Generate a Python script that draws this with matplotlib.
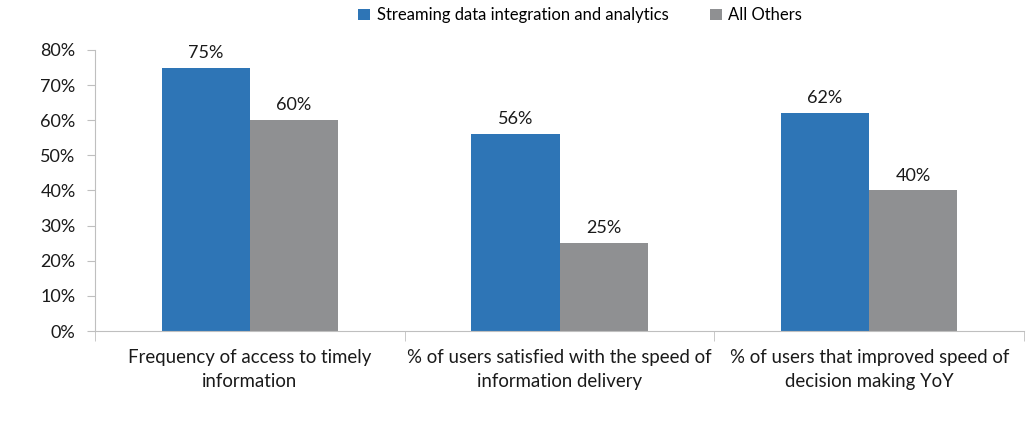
import matplotlib.pyplot as plt
import numpy as np

plt.rcParams['font.family'] = ['Lato', 'DejaVu Sans']

categories = ["Frequency of access to timely\ninformation",
              "% of users satisfied with the speed of\ninformation delivery",
              "% of users that improved speed of\ndecision making YoY"]
streaming = [75, 56, 62]
others = [60, 25, 40]
series_names = ["Streaming data integration and analytics", "All Others"]
y_ticks = [0, 10, 20, 30, 40, 50, 60, 70, 80]

BLUE = '#2E75B6'
GRAY = '#8F9092'
SPINE = '#BFBFBF'


def main():
    fig = plt.figure(figsize=(10.29, 4.22), dpi=100)
    ax = fig.add_axes([0.0923, 0.2156, 0.9029, 0.666])

    x = np.arange(len(categories))
    w = 0.285
    b1 = ax.bar(x - w / 2, streaming, w, color=BLUE, label=series_names[0])
    b2 = ax.bar(x + w / 2, others, w, color=GRAY, label=series_names[1])
    for bars in (b1, b2):
        ax.bar_label(bars, labels=[f"{v}%" for v in bars.datavalues],
                     padding=5, fontsize=13, color='#1A1A1A')

    ax.set_xlim(-0.5, len(categories) - 0.5)
    ax.set_ylim(0, 80)
    ax.set_yticks(y_ticks)
    ax.set_yticklabels([f"{v}%" for v in y_ticks], fontsize=13, color='#1A1A1A')
    ax.tick_params(axis='y', length=6, color=SPINE, pad=8)

    ax.set_xticks(x)
    ax.set_xticklabels(categories, fontsize=13.4, color='#1A1A1A', linespacing=1.5)
    ax.tick_params(axis='x', which='major', length=0, pad=13)
    ax.set_xticks(np.arange(-0.5, len(categories)), minor=True)
    ax.tick_params(axis='x', which='minor', length=7, color=SPINE)

    for s in ('top', 'right'):
        ax.spines[s].set_visible(False)
    for s in ('left', 'bottom'):
        ax.spines[s].set_color(SPINE)

    fig.legend(loc='upper center', bbox_to_anchor=(0.564, 1.018), ncol=2,
               frameon=False, fontsize=12, handlelength=0.7, handleheight=0.7,
               handletextpad=0.4, columnspacing=2.5)

    fig.savefig('out.png', dpi=100)


if __name__ == '__main__':
    main()
